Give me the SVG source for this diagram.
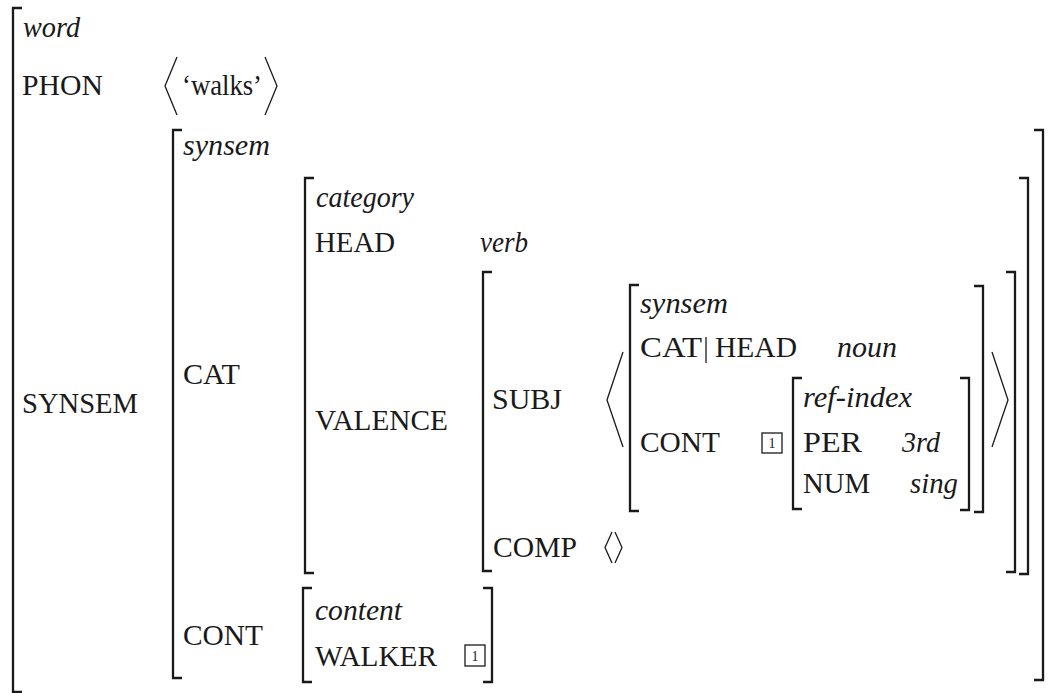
<svg xmlns="http://www.w3.org/2000/svg" width="1049" height="693" viewBox="0 0 1049 693" font-family="'Liberation Serif','Times New Roman',serif">
<style>
text{font-family:'Liberation Serif','Times New Roman',serif}
.t{font-size:29px;fill:#1a1a1a}
.i{font-style:italic}
.b{fill:none;stroke:#1a1a1a;stroke-width:2.3}
.a{fill:none;stroke:#1a1a1a;stroke-width:1.3}
.bx{fill:none;stroke:#1a1a1a;stroke-width:1.3}
.n{font-size:14px;fill:#1a1a1a;text-anchor:middle}
</style>
<rect width="1049" height="693" fill="#fff"/>
<g id="avm-word">
<path class="b" d="M22,8 H13 V692 H22"/>
<text class="t i" x="23" y="37" textLength="57" lengthAdjust="spacingAndGlyphs">word</text>
<text class="t" x="22" y="95" textLength="81" lengthAdjust="spacingAndGlyphs">PHON</text>
<polyline class="a" points="177,57 165,86 177,115"/>
<text class="t" x="182" y="95" textLength="80" lengthAdjust="spacingAndGlyphs">‘walks’</text>
<polyline class="a" points="265,57 277,86 265,115"/>
<text class="t" x="22" y="413" textLength="116" lengthAdjust="spacingAndGlyphs">SYNSEM</text>
</g>
<g id="avm-synsem">
<path class="b" d="M182,130 H173 V678 H182"/>
<path class="b" d="M1034,130 H1043 V680 H1034"/>
<text class="t i" x="183" y="155" textLength="87" lengthAdjust="spacingAndGlyphs">synsem</text>
<text class="t" x="183" y="384" textLength="57" lengthAdjust="spacingAndGlyphs">CAT</text>
<text class="t" x="183" y="645" textLength="80" lengthAdjust="spacingAndGlyphs">CONT</text>
</g>
<g id="avm-category">
<path class="b" d="M314,178 H305 V573 H314"/>
<path class="b" d="M1019,178 H1028 V574 H1019"/>
<text class="t i" x="316" y="207" textLength="98" lengthAdjust="spacingAndGlyphs">category</text>
<text class="t" x="315" y="252" textLength="80" lengthAdjust="spacingAndGlyphs">HEAD</text>
<text class="t i" x="480" y="252" textLength="48" lengthAdjust="spacingAndGlyphs">verb</text>
<text class="t" x="315" y="430" textLength="133" lengthAdjust="spacingAndGlyphs">VALENCE</text>
</g>
<g id="avm-valence">
<path class="b" d="M492,272 H483 V571 H492"/>
<path class="b" d="M1006,272 H1015 V572 H1006"/>
<text class="t" x="492" y="409" textLength="70" lengthAdjust="spacingAndGlyphs">SUBJ</text>
<polyline class="a" points="623,352 607,400 623,447"/>
<polyline class="a" points="992,352 1008,400 992,447"/>
<text class="t" x="493" y="557" textLength="84" lengthAdjust="spacingAndGlyphs">COMP</text>
<polyline class="a" points="612,532 605,547.5 612,563"/>
<polyline class="a" points="615,532 622,547.5 615,563"/>
</g>
<g id="avm-subj-synsem">
<path class="b" d="M639,285 H630 V511 H639"/>
<path class="b" d="M974,286 H983 V512 H974"/>
<text class="t i" x="640" y="313" textLength="88" lengthAdjust="spacingAndGlyphs">synsem</text>
<text class="t" x="640" y="357" textLength="62" lengthAdjust="spacingAndGlyphs">CAT</text>
<line class="a" x1="706" y1="337" x2="706" y2="363"/>
<text class="t" x="715" y="357" textLength="82" lengthAdjust="spacingAndGlyphs">HEAD</text>
<text class="t i" x="837" y="357" textLength="60" lengthAdjust="spacingAndGlyphs">noun</text>
<text class="t" x="640" y="452" textLength="80" lengthAdjust="spacingAndGlyphs">CONT</text>
<rect class="bx" x="762" y="433" width="20" height="20"/>
<text class="n" x="772" y="448">1</text>
</g>
<g id="avm-ref-index">
<path class="b" d="M802,378 H793 V509 H802"/>
<path class="b" d="M960,378 H969 V510 H960"/>
<text class="t i" x="803" y="407" textLength="109" lengthAdjust="spacingAndGlyphs">ref-index</text>
<text class="t" x="803" y="452" textLength="59" lengthAdjust="spacingAndGlyphs">PER</text>
<text class="t i" x="902" y="452" textLength="38" lengthAdjust="spacingAndGlyphs">3rd</text>
<text class="t" x="803" y="493" textLength="67" lengthAdjust="spacingAndGlyphs">NUM</text>
<text class="t i" x="910" y="493" textLength="48" lengthAdjust="spacingAndGlyphs">sing</text>
</g>
<g id="avm-content">
<path class="b" d="M312,588 H303 V682 H312"/>
<path class="b" d="M483,588 H492 V682 H483"/>
<text class="t i" x="315" y="620" textLength="87" lengthAdjust="spacingAndGlyphs">content</text>
<text class="t" x="315" y="666" textLength="122" lengthAdjust="spacingAndGlyphs">WALKER</text>
<rect class="bx" x="465" y="645" width="20" height="21"/>
<text class="n" x="475" y="661">1</text>
</g>
<g id="connectors"></g>
</svg>
